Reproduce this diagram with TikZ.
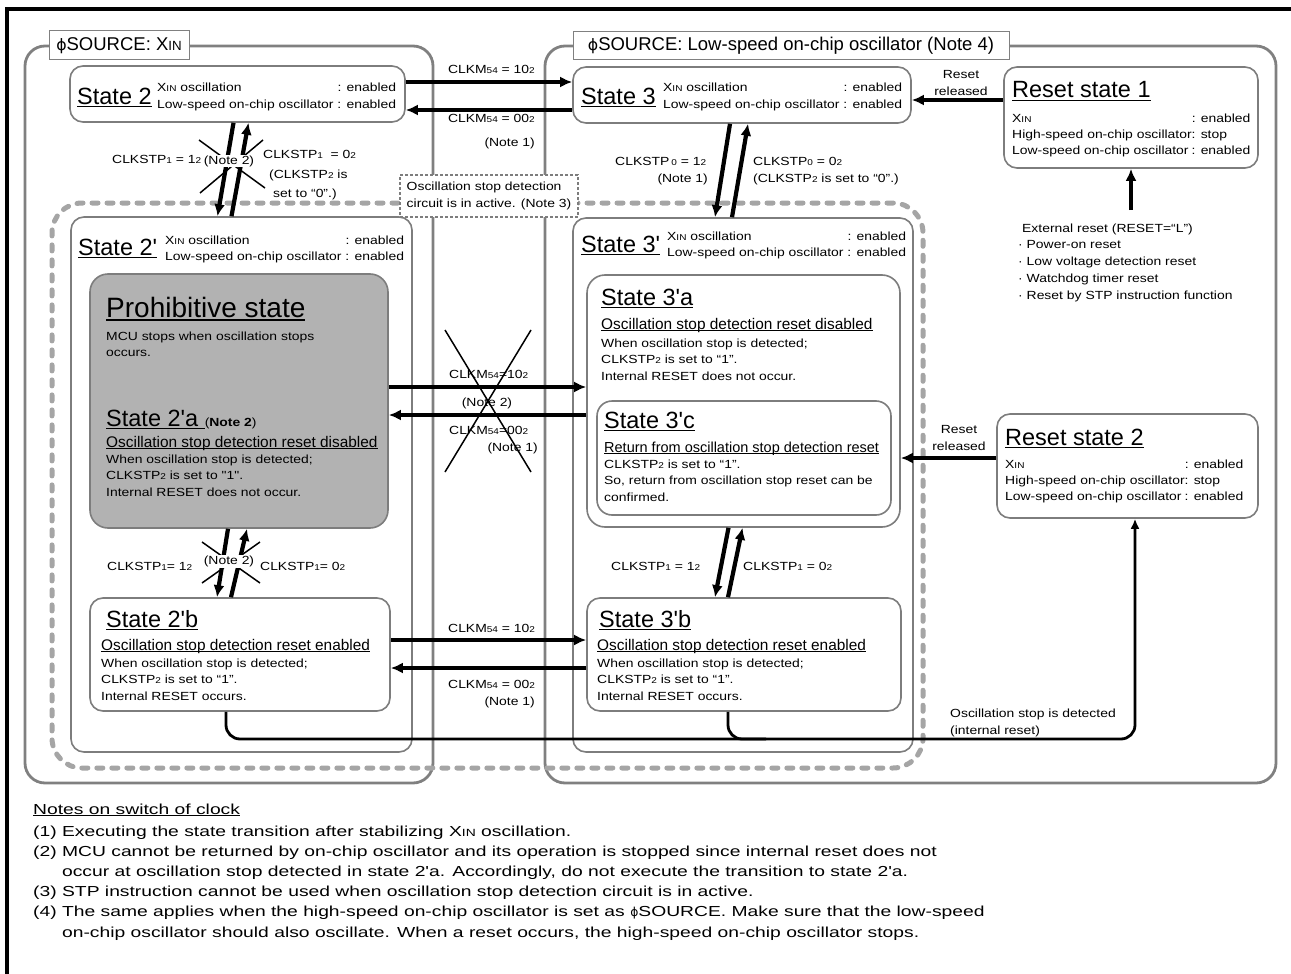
\documentclass[tikz,border=0pt]{standalone}
\usepackage{fontspec}
\setmainfont{Liberation Sans}[Ligatures=TeXOff]
\newfontfamily\bodyfont{Liberation Sans}[Ligatures=TeXOff, FakeStretch=1.18]
\newfontfamily\notefont{Liberation Sans}[Ligatures=TeXOff, FakeStretch=1.33]
\newfontfamily\phifont{DejaVu Sans}
\usepackage{graphicx}
\usepackage{tikz}
\usetikzlibrary{arrows.meta, positioning, fit}
\definecolor{boxgray}{RGB}{125,125,125}
\definecolor{srcgray}{RGB}{128,128,128}
\definecolor{dashgray}{RGB}{165,165,165}
\definecolor{prohibfill}{RGB}{178,178,178}
\newcommand{\lo}[1]{\scalebox{0.72}{#1}}
\newcommand{\phisrc}{{\phifont\scalebox{0.85}{ϕ}}}
\newcommand{\txtrows}[1]{\begin{tabular}[t]{@{}l@{}}#1\end{tabular}}
\newcommand{\ctrrows}[1]{\begin{tabular}[t]{@{}c@{}}#1\end{tabular}}
\newcommand{\ulx}[1]{\leavevmode\setbox0=\hbox{#1}\rlap{\rule[-0.14em]{\wd0}{0.06em}}\box0}
\newcommand{\oschdr}{\begin{tabular}[t]{@{}l@{\ }r@{}}X\lo{IN} oscillation & : enabled\\Low-speed on-chip oscillator & : enabled\end{tabular}}
\newcommand{\rsttab}{\begin{tabular}[t]{@{}l@{}l@{}}X\lo{IN} & : enabled\\High-speed on-chip oscillator & : stop\\Low-speed on-chip oscillator & : enabled\end{tabular}}

\begin{document}
\begin{tikzpicture}[
    x=1pt, y=-1pt,
    statebox/.style={draw=boxgray, line width=1.6pt, rounded corners=13pt, fill=white, inner sep=0pt},
    srcbox/.style={draw=srcgray, line width=2.8pt, rounded corners=20pt, inner sep=0pt},
    srclbl/.style={draw=srcgray, line width=1pt, fill=white, font=\fontsize{18.5}{21}\selectfont, inner sep=0pt},
    detbox/.style={draw=dashgray, line width=5pt, dash pattern=on 6pt off 9pt, line cap=round, rounded corners=30pt, inner sep=0pt},
    dotlbl/.style={draw=boxgray, line width=2.4pt, dash pattern=on 3pt off 2pt, fill=white, inner sep=0pt, align=left, font=\bodyfont\fontsize{11.8}{17}\selectfont},
    ttl/.style={font=\fontsize{23.5}{26}\selectfont, inner sep=0pt, anchor=base west},
    bigttl/.style={font=\fontsize{28}{30}\selectfont, inner sep=0pt, anchor=base west},
    subttl/.style={font=\fontsize{15.4}{18}\selectfont, inner sep=0pt, anchor=base west},
    body/.style={font=\bodyfont\fontsize{11.8}{16.8}\selectfont, inner sep=0pt, anchor=base west},
    hdr/.style={font=\bodyfont\fontsize{11.8}{16.2}\selectfont, inner sep=0pt, anchor=base west},
    lbl/.style={font=\bodyfont\fontsize{11.8}{17}\selectfont, inner sep=0pt, anchor=base west},
    notes/.style={font=\notefont\fontsize{14.5}{20.2}\selectfont, inner sep=0pt, anchor=base west},
    arrow/.style={-{Latex[length=12pt, width=11pt]}, line width=4.2pt},
    oscline/.style={line width=2.8pt, rounded corners=14pt},
    crossout/.style={line width=1.5pt}
]
    \useasboundingbox (0,0) rectangle (1291,974);
    \draw[line width=4pt] (7,990) -- (7,9.5) -- (1300,9.5);

    % clock source areas
    \node[srcbox, fit={(25,46) (433,783)}] (srcL) {};
    \node[srcbox, fit={(545,46) (1276,783)}] (srcR) {};
    \node[srclbl, minimum width=140pt, minimum height=29pt] (srcLlbl) at (119,45.5) {\phisrc SOURCE: X\lo{IN}};
    \node[srclbl, minimum width=436pt, minimum height=28pt] (srcRlbl) at (791,46) {\phisrc SOURCE: Low-speed on-chip oscillator (Note 4)};

    % oscillation stop detection area
    \node[detbox, fit={(52,203) (923,768)}] (det) {};
    \node[dotlbl, minimum width=178pt, minimum height=42pt] (detlbl) at (489,196) {Oscillation stop detection\\circuit is in active. (Note 3)};

    % top row
    \node[statebox, fit={(70,66) (405,122)}] (s2) {};
    \node[ttl] (s2t) at (77,104) {\ulx{State 2}};
    \node[hdr] (s2h) at (157,92) {\oschdr};

    \node[statebox, fit={(573,67) (911,123)}] (s3) {};
    \node[ttl] (s3t) at (581,104) {\ulx{State 3}};
    \node[hdr] (s3h) at (663,92) {\oschdr};

    \node[statebox, fit={(1004,67) (1258,168)}] (rs1) {};
    \node[ttl] (rs1t) at (1012,98) {\ulx{Reset state 1}};
    \node[hdr] (rs1h) at (1012,122) {\rsttab};

    \node[lbl, anchor=base] (rel1) at (961,79) {\ctrrows{Reset\\released}};
    \node[body] (ext) at (1018,232) {\txtrows{\hspace*{4pt}External reset (RESET=“L”)\\· Power-on reset\\· Low voltage detection reset\\· Watchdog timer reset\\· Reset by STP instruction function}};

    % state 2' side
    \node[statebox, fit={(71,217) (412,752)}] (s2d) {};
    \node[ttl] (s2dt) at (78,255) {\ulx{State 2'}};
    \node[hdr] (s2dh) at (165,244) {\oschdr};

    \node[statebox, fill=prohibfill, rounded corners=18pt, fit={(90,274) (388,528)}] (pro) {};
    \node[bigttl] (prot) at (106,317) {\ulx{Prohibitive state}};
    \node[body] (prob) at (106,340) {\txtrows{MCU stops when oscillation stops\\occurs.}};
    \node[ttl] (s2at) at (106,426) {\ulx{State 2'a\ }{\bodyfont\fontsize{11.8}{14}\selectfont(\textbf{Note 2})}};
    \node[subttl] (s2as) at (106,447) {\ulx{Oscillation stop detection reset disabled}};
    \node[body] (s2ab) at (106,463) {\txtrows{When oscillation stop is detected;\\CLKSTP\lo{2} is set to "1".\\Internal RESET does not occur.}};

    \node[statebox, fit={(90,598) (390,711)}] (s2b) {};
    \node[ttl] (s2bt) at (106,627) {\ulx{State 2'b}};
    \node[subttl] (s2bs) at (101,650) {\ulx{Oscillation stop detection reset enabled}};
    \node[body] (s2bb) at (101,667) {\txtrows{When oscillation stop is detected;\\CLKSTP\lo{2} is set to “1”.\\Internal RESET occurs.}};

    % state 3' side
    \node[statebox, fit={(573,218) (913,752)}] (s3d) {};
    \node[ttl] (s3dt) at (581,252) {\ulx{State 3'}};
    \node[hdr] (s3dh) at (667,240) {\oschdr};

    \node[statebox, rounded corners=18pt, fit={(587,275) (900,527)}] (s3a) {};
    \node[ttl] (s3at) at (601,305) {\ulx{State 3'a}};
    \node[subttl] (s3as) at (601,329) {\ulx{Oscillation stop detection reset disabled}};
    \node[body] (s3ab) at (601,347) {\txtrows{When oscillation stop is detected;\\CLKSTP\lo{2} is set to “1”.\\Internal RESET does not occur.}};

    \node[statebox, rounded corners=15pt, fit={(597,401) (891,515)}] (s3c) {};
    \node[ttl] (s3ct) at (604,428) {\ulx{State 3'c}};
    \node[subttl, font=\fontsize{14.5}{17}\selectfont] (s3cs) at (604,452) {\ulx{Return from oscillation stop detection reset}};
    \node[body] (s3cb) at (604,468) {\txtrows{CLKSTP\lo{2} is set to “1”.\\So, return from oscillation stop reset can be\\confirmed.}};

    \node[statebox, fit={(587,598) (901,711)}] (s3b) {};
    \node[ttl] (s3bt) at (599,627) {\ulx{State 3'b}};
    \node[subttl] (s3bs) at (597,650) {\ulx{Oscillation stop detection reset enabled}};
    \node[body] (s3bb) at (597,667) {\txtrows{When oscillation stop is detected;\\CLKSTP\lo{2} is set to “1”.\\Internal RESET occurs.}};

    \node[statebox, fit={(997,414) (1258,518)}] (rs2) {};
    \node[ttl] (rs2t) at (1005,445) {\ulx{Reset state 2}};
    \node[hdr] (rs2h) at (1005,468) {\rsttab};
    \node[lbl, anchor=base] (rel2) at (959,433) {\ctrrows{Reset\\released}};

    % transitions State 2 <-> State 3
    \coordinate (c23a) at ([yshift=12pt]s2.east);
    \coordinate (c23b) at ([yshift=-16pt]s2.east);
    \draw[arrow] (c23a) -- (c23a -| s3.west);
    \draw[arrow] (c23b -| s3.west) -- (c23b);
    \node[lbl, anchor=base east] (l23a) at (535,74) {CLKM\lo{54} = 10\lo{2}};
    \node[lbl, anchor=base east] (l23b) at (535,122) {CLKM\lo{54} = 00\lo{2}};
    \node[lbl, anchor=base east] (l23c) at (535,146) {(Note 1)};

    % State 2 <-> State 2'
    \draw[crossout] (199,140) -- (265,188);
    \draw[crossout] (263,140) -- (200,193);
    \draw[arrow] ([xshift=-4pt]s2.south) -- ([xshift=-24pt]s2d.north);
    \draw[arrow] ([xshift=-10pt]s2d.north) -- ([xshift=11pt]s2.south);
    \node[lbl, anchor=center, fill=white, inner sep=1pt] (l22n) at (229,161) {(Note 2)};
    \node[lbl] (l22a) at (112,163) {CLKSTP\lo{1} = 1\lo{2}};
    \node[lbl] (l22b) at (263,158) {CLKSTP\lo{1} \ = 0\lo{2}};
    \node[lbl] (l22c) at (269,178) {(CLKSTP\lo{2} is};
    \node[lbl] (l22d) at (273,197) {set to “0”.)};

    % State 3 <-> State 3'
    \draw[arrow] ([xshift=-12pt]s3.south) -- ([xshift=-28pt]s3d.north);
    \draw[arrow] ([xshift=-11pt]s3d.north) -- ([xshift=6pt]s3.south);
    \node[lbl] (l33a) at (615,165) {CLKSTP\,\lo{0} = 1\lo{2}};
    \node[lbl, anchor=base east] (l33b) at (708,182) {(Note 1)};
    \node[lbl] (l33c) at (753,165) {CLKSTP\lo{0} = 0\lo{2}};
    \node[lbl] (l33d) at (753,182) {(CLKSTP\lo{2} is set to “0”.)};

    % resets
    \coordinate (r1in) at ([yshift=-5pt]s3.east);
    \draw[arrow] (r1in -| rs1.west) -- (r1in);
    \coordinate (extin) at ([yshift=10pt]ext.north);
    \draw[arrow] (extin -| rs1.south) -- (rs1.south);
    \coordinate (r2in) at ([yshift=8pt]rs2.west);
    \draw[arrow] (r2in) -- (r2in -| s3a.east);

    % Prohibitive <-> State 3'a
    \coordinate (cma) at ([yshift=14pt]pro.east);
    \coordinate (cmb) at ([yshift=-14pt]pro.east);
    \draw[arrow] (cma) -- (cma -| s3a.west);
    \draw[arrow] (cmb -| s3a.west) -- (cmb);
    \node[lbl] (lma) at (449,378) {CLKM\lo{54}=10\lo{2}};
    \node[lbl, anchor=base] (lmn) at (487,406) {(Note 2)};
    \node[lbl] (lmb) at (449,434) {CLKM\lo{54}=00\lo{2}};
    \node[lbl, anchor=base east] (lmc) at (538,451) {(Note 1)};
    \draw[crossout] (445,330) -- (531,472);
    \draw[crossout] (531,330) -- (445,472);

    % Prohibitive <-> State 2'b
    \draw[crossout] (202,542) -- (260,583);
    \draw[crossout] (260,542) -- (202,583);
    \draw[arrow] ([xshift=-11pt]pro.south) -- ([xshift=-23pt]s2b.north);
    \draw[arrow] ([xshift=-9pt]s2b.north) -- ([xshift=8pt]pro.south);
    \node[lbl, anchor=center, fill=white, inner sep=1pt] (l2pn) at (229,561) {(Note 2)};
    \node[lbl] (l2pa) at (107,570) {CLKSTP\lo{1}= 1\lo{2}};
    \node[lbl] (l2pb) at (260,570) {CLKSTP\lo{1}= 0\lo{2}};

    % State 3'a <-> State 3'b
    \draw[arrow] ([xshift=-15pt]s3a.south) -- ([xshift=-29pt]s3b.north);
    \draw[arrow] ([xshift=-16pt]s3b.north) -- ([xshift=-1pt]s3a.south);
    \node[lbl] (l3ba) at (611,570) {CLKSTP\lo{1} = 1\lo{2}};
    \node[lbl] (l3bb) at (743,570) {CLKSTP\lo{1} = 0\lo{2}};

    % State 2'b <-> State 3'b
    \coordinate (cla) at ([yshift=14.5pt]s2b.east);
    \coordinate (clb) at ([yshift=-13.5pt]s2b.east);
    \draw[arrow] (cla) -- (cla -| s3b.west);
    \draw[arrow] (clb -| s3b.west) -- (clb);
    \node[lbl] (lla) at (448,632) {CLKM\lo{54} = 10\lo{2}};
    \node[lbl] (llb) at (448,688) {CLKM\lo{54} = 00\lo{2}};
    \node[lbl, anchor=base east] (llc) at (535,705) {(Note 1)};

    % oscillation stop -> Reset state 2
    \coordinate (rail) at (0,739);
    \coordinate (rs2in) at ([xshift=7.5pt]rs2.south);
    \coordinate (s3bj) at ([xshift=22pt]s3b.south);
    \draw[oscline, -{Latex[length=10pt, width=9pt]}] ([xshift=-14pt]s2b.south) |- (rail -| rs2in) -- (rs2in);
    \draw[oscline] ([xshift=-16pt]s3b.south) |- (s3bj |- rail);
    \node[lbl] (oscl) at (950,717) {\txtrows{Oscillation stop is detected\\(internal reset)}};

    % notes
    \node[notes] (nt0) at (33,814) {\ulx{Notes on switch of clock}};
    \node[notes] (nt1) at (33,836) {\txtrows{(1) Executing the state transition after stabilizing X\lo{IN} oscillation.\\
        (2) MCU cannot be returned by on-chip oscillator and its operation is stopped since internal reset does not\\
        \phantom{(2) }occur at oscillation stop detected in state 2'a. Accordingly, do not execute the transition to state 2'a.\\
        (3) STP instruction cannot be used when oscillation stop detection circuit is in active.\\
        (4) The same applies when the high-speed on-chip oscillator is set as \phisrc SOURCE. Make sure that the low-speed\\
        \phantom{(4) }on-chip oscillator should also oscillate. When a reset occurs, the high-speed on-chip oscillator stops.}};
\end{tikzpicture}
\end{document}
